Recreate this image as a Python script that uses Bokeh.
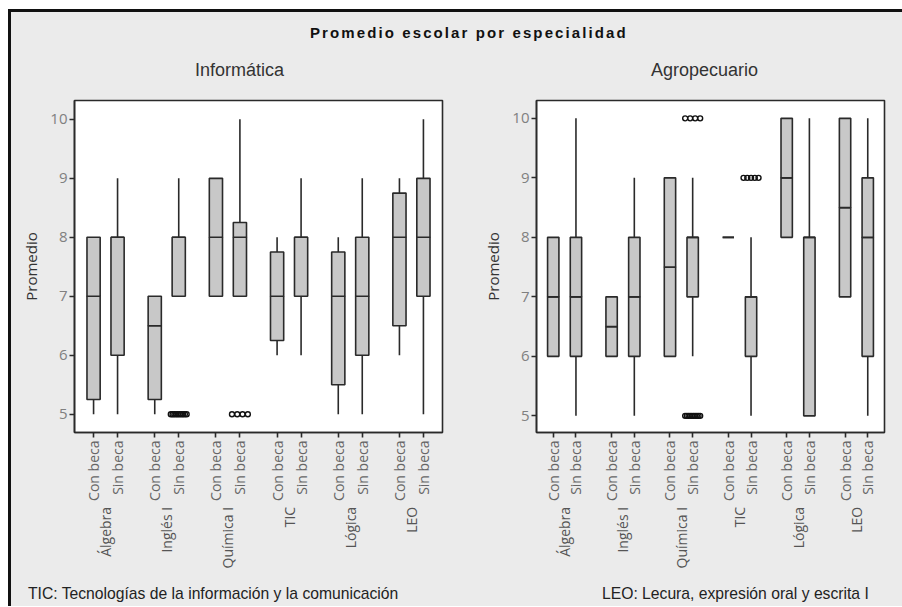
import math
from bokeh.plotting import figure
from bokeh.models import FactorRange, Range1d, FixedTicker, ColumnDataSource, Div
from bokeh.layouts import column, row
from bokeh.embed import file_html
from bokeh.resources import INLINE

# ---------------- data ----------------
subjects = ["Álgebra", "Inglés I", "Química I", "TIC", "Lógica", "LEO"]
becas = ["Con beca", "Sin beca"]
y_ticks = [5, 6, 7, 8, 9, 10]

main_title = "Promedio escolar por especialidad"
titles = ["Informática", "Agropecuario"]
y_label = "Promedio"
note_left = "TIC: Tecnologías de la información y la comunicación"
note_right = "LEO: Lecura, expresión oral y escrita I"

# Informática (order: subject, Con beca / Sin beca)
inf_lower  = [5,    5, 5,    7, 7, 7,    6,    6, 5,    5, 6,    5]
inf_q1     = [5.25, 6, 5.25, 7, 7, 7,    6.25, 7, 5.5,  6, 6.5,  7]
inf_median = [7,    8, 6.5,  8, 8, 8,    7,    8, 7,    7, 8,    8]
inf_q3     = [8,    8, 7,    8, 9, 8.25, 7.75, 8, 7.75, 8, 8.75, 9]
inf_upper  = [8,    9, 7,    9, 9, 10,   8,    9, 8,    9, 9,    10]
inf_out_subject = ["Inglés I", "Química I"]
inf_out_beca = ["Sin beca", "Sin beca"]
inf_out_value = [5, 5]
inf_out_count = [10, 4]

# Agropecuario
agro_lower  = [6, 5,  6,   5, 6,   6, 8, 5, 8,  5,  7,   5]
agro_q1     = [6, 6,  6,   6, 6,   7, 8, 6, 8,  5,  7,   6]
agro_median = [7, 7,  6.5, 7, 7.5, 8, 8, 7, 9,  8,  8.5, 8]
agro_q3     = [8, 8,  7,   8, 9,   8, 8, 7, 10, 8,  10,  9]
agro_upper  = [8, 10, 7,   9, 9,   9, 8, 8, 10, 10, 10,  10]
agro_out_subject = ["Química I", "Química I", "TIC"]
agro_out_beca = ["Sin beca", "Sin beca", "Sin beca"]
agro_out_value = [10, 5, 9]
agro_out_count = [4, 10, 5]

# ---------------- style ----------------
BG = "#ebebeb"
BOX_FILL = "#c8c8c8"
LINE = "#2a2a2a"
FIG_H = 500


def make_panel(lower, q1, med, q3, upper, o_sub, o_beca, o_val, o_cnt,
               y0, y1, gp, rp, bw, w, mbl, mbr):
    factors = [(s, b) for s in subjects for b in becas]
    xr = FactorRange(*factors, group_padding=gp, factor_padding=0,
                     range_padding=rp, range_padding_units="percent")
    p = figure(width=w, height=FIG_H, x_range=xr, y_range=Range1d(y0, y1),
               output_backend="svg", toolbar_location=None,
               min_border_left=mbl, min_border_right=mbr,
               min_border_top=19, min_border_bottom=149)
    p.background_fill_color = "white"
    p.border_fill_color = BG
    p.outline_line_color = LINE
    p.outline_line_width = 1.6
    p.grid.visible = False

    src = ColumnDataSource(dict(x=factors, lower=lower, q1=q1, median=med,
                                q3=q3, upper=upper))
    p.segment(x0="x", y0="q3", x1="x", y1="upper", source=src,
              line_color=LINE, line_width=1.6)
    p.segment(x0="x", y0="lower", x1="x", y1="q1", source=src,
              line_color=LINE, line_width=1.6)
    p.vbar(x="x", width=bw, bottom="q1", top="median", source=src,
           fill_color=BOX_FILL, line_color=LINE, line_width=1.6)
    p.vbar(x="x", width=bw, bottom="median", top="q3", source=src,
           fill_color=BOX_FILL, line_color=LINE, line_width=1.6)

    ox, oy = [], []
    for s, b, v, n in zip(o_sub, o_beca, o_val, o_cnt):
        for i in range(n):
            off = -0.33 + 0.66 * i / (n - 1)
            ox.append((s, b, off))
            oy.append(v)
    p.scatter(x=ox, y=oy, marker="circle", size=5, fill_color=None,
              line_color="#111111", line_width=1.4)

    # y axis
    ya = p.yaxis[0]
    ya.ticker = FixedTicker(ticks=y_ticks)
    ya.minor_tick_line_color = None
    ya.major_tick_in = 0
    ya.major_tick_out = 5
    ya.major_tick_line_color = LINE
    ya.major_tick_line_width = 1.6
    ya.axis_line_color = LINE
    ya.axis_line_width = 1.6
    ya.major_label_text_font = "Open Sans"
    ya.major_label_text_font_size = "15px"
    ya.major_label_text_color = "#808080"
    ya.major_label_standoff = 2
    ya.axis_label = y_label
    ya.axis_label_text_font = "Open Sans"
    ya.axis_label_text_font_size = "15px"
    ya.axis_label_text_font_style = "normal"
    ya.axis_label_text_color = "#333333"
    ya.axis_label_standoff = 6

    # x axis
    xa = p.xaxis[0]
    xa.major_tick_in = 0
    xa.major_tick_out = 5
    xa.major_tick_line_color = LINE
    xa.major_tick_line_width = 1.6
    xa.axis_line_color = LINE
    xa.axis_line_width = 1.6
    xa.major_label_orientation = math.pi / 2
    xa.major_label_text_font = "Open Sans"
    xa.major_label_text_font_size = "14px"
    xa.major_label_text_color = "#666666"
    xa.major_label_standoff = 3
    xa.group_label_orientation = math.pi / 2
    xa.group_text_font = "Open Sans"
    xa.group_text_font_size = "14px"
    xa.group_text_font_style = "normal"
    xa.group_text_color = "#555555"
    xa.separator_line_color = None
    return p


p1 = make_panel(inf_lower, inf_q1, inf_median, inf_q3, inf_upper,
                inf_out_subject, inf_out_beca, inf_out_value, inf_out_count,
                4.69, 10.32, 0.55, 0.04, 0.55, 469, 63, 38)
p2 = make_panel(agro_lower, agro_q1, agro_median, agro_q3, agro_upper,
                agro_out_subject, agro_out_beca, agro_out_value, agro_out_count,
                4.72, 10.3, 0.57, 0.032, 0.5, 422, 47, 18)


def text_div(txt, w, h, style):
    return Div(width=w, height=h, margin=0,
               text='<div style="white-space:nowrap;' + style + '">' + txt + '</div>',
               styles={"background-color": BG})


head = text_div(main_title, 891, 39,
                "padding-left:299px;padding-top:13px;font-family:'Liberation Sans';"
                "font-weight:bold;font-size:15px;letter-spacing:2.1px;line-height:16px;color:#111")
sub_l = text_div(titles[0], 469, 30,
                 "padding-left:184px;padding-top:9px;font-family:'Liberation Sans';"
                 "font-size:18px;line-height:20px;color:#333")
sub_r = text_div(titles[1], 422, 30,
                 "padding-left:171px;padding-top:9px;font-family:'Liberation Sans';"
                 "font-size:18px;line-height:20px;color:#333")
foot_l = text_div(note_left, 469, 25,
                  "padding-left:17px;padding-top:4px;font-family:'Liberation Sans';"
                  "font-size:15.7px;line-height:18px;color:#222")
foot_r = text_div(note_right, 422, 25,
                  "padding-left:122px;padding-top:4px;font-family:'Liberation Sans';"
                  "font-size:15.7px;line-height:18px;color:#222")

top_border = Div(width=891, height=3, margin=0, text="",
                 styles={"background-color": "#111"})
left_border = Div(width=3, height=597, margin=0, text="",
                  styles={"background-color": "#111"})

inner = column(top_border, head, row(sub_l, sub_r, spacing=0),
               row(p1, p2, spacing=0), row(foot_l, foot_r, spacing=0),
               spacing=0, styles={"background-color": BG})
layout = row(left_border, inner, spacing=0, margin=(9, 0, 0, 8))

open("out.html", "w").write(file_html(layout, INLINE))
